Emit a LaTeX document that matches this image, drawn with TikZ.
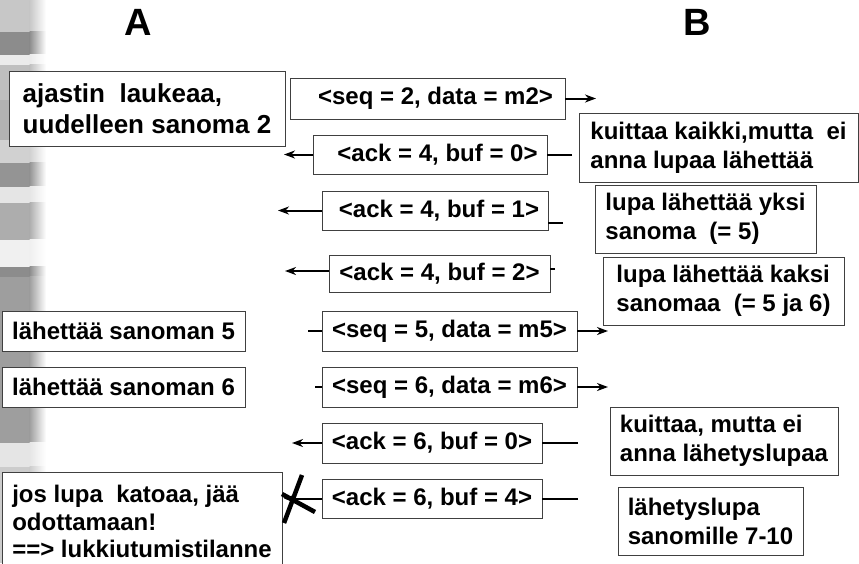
\documentclass[tikz,border=0pt]{standalone}
\usepackage{fontspec}
\setmainfont{Liberation Sans}
\usetikzlibrary{arrows.meta}
\begin{document}
\begin{tikzpicture}[x=1pt,y=-1pt,
  box/.style={draw=black!75, line width=0.9pt, fill=white, inner sep=0pt, align=left,
              font=\bfseries\fontsize{24}{29}\selectfont},
  arr/.style={line width=2pt, -{Stealth[length=11pt,width=8pt,inset=3.5pt]}},
  stub/.style={line width=2pt},
  cross/.style={line width=4.5pt},
  hdr/.style={font=\bfseries\fontsize{38}{40}\selectfont, inner sep=0pt}]

\clip (0,0) rectangle (859,563);
\fill[white] (0,0) rectangle (859,563);

% left decorative band
\foreach \a/\b/\c in {0/32/22, 32/55/45, 55/65/8, 65/100/25, 100/140/30, 140/163/18,
                      163/187/42, 187/203/10, 203/240/32, 240/267/6, 267/277/45,
                      277/443/38, 443/467/10, 467/563/20}{
  \fill[black!\c] (0,\a-0.3) rectangle (30,\b+0.3);
  \shade[left color=black!\c, right color=white] (29.5,\a-0.3) rectangle (46,\b+0.3);
}

% headers
\node[hdr] (A) at (138,22) {A};
\node[hdr] (B) at (697,22) {B};

% A side notes
\node[box, minimum width=276pt, minimum height=75pt,
      font=\bfseries\fontsize{26}{31}\selectfont] (n1) at (147,108.5)
      {ajastin\ \ laukeaa,\\uudelleen sanoma 2};
\node[box, minimum width=243pt, minimum height=40pt] (n5) at (123.5,331) {lähettää sanoman 5};
\node[box, minimum width=243pt, minimum height=40pt] (n6) at (123.5,387) {lähettää sanoman 6};
\node[box, minimum width=280pt, inner ysep=13pt, anchor=north,
      font=\bfseries\fontsize{24}{27.5}\selectfont] (n11) at (142,472)
      {jos lupa\ \ katoaa, jää\\odottamaan!\\==> lukkiutumistilanne};

% messages
\node[box, minimum width=275pt, minimum height=41pt] (m2) at (427.5,98.5) {\hspace*{16pt}<seq = 2, data = m2>};
\node[box, minimum width=234pt, minimum height=39pt] (a40) at (430,154.5) {\hspace*{15pt}<ack = 4, buf = 0>};
\node[box, minimum width=226pt, minimum height=39pt] (a41) at (435,210.5) {\hspace*{8pt}<ack = 4, buf = 1>};
\node[box, minimum width=221pt, minimum height=37pt] (a42) at (439.5,273.5) {<ack = 4, buf = 2>};
\node[box, minimum width=255pt, minimum height=40pt] (s5) at (449.5,331) {<seq = 5, data = m5>};
\node[box, minimum width=255pt, minimum height=40pt] (s6) at (449.5,387) {<seq = 6, data = m6>};
\node[box, minimum width=220pt, minimum height=40pt] (a60) at (432,443) {<ack = 6, buf = 0>};
\node[box, minimum width=220pt, minimum height=39pt] (a64) at (432,498.5) {<ack = 6, buf = 4>};

% B side notes
\node[box, minimum width=279pt, minimum height=69pt] (r6) at (718.5,147.5)
      {kuittaa kaikki,mutta\ \ ei\\anna lupaa lähettää};
\node[box, minimum width=221pt, minimum height=68pt] (r7) at (705.5,219)
      {lupa lähettää yksi\\sanoma\ \ (= 5)};
\node[box, minimum width=241pt, minimum height=68pt] (r8) at (723.5,291)
      {lupa lähettää kaksi\\sanomaa\ \ (= 5 ja 6)};
\node[box, minimum width=228pt, minimum height=68pt] (r12) at (724,441)
      {kuittaa, mutta ei\\anna lähetyslupaa};
\node[box, minimum width=185pt, minimum height=68pt] (r13) at (710.5,521)
      {lähetyslupa\\sanomille 7-10};

% connector ends
\coordinate (m2R) at (596,98.5);
\coordinate (a40L) at (284,154.5);
\coordinate (a40R) at (572,154.5);
\coordinate (a41L) at (278,210.5);
\coordinate (a41R) at (563,223);
\coordinate (a42L) at (285,271);
\coordinate (a42R) at (555,269);
\coordinate (s5L) at (308,331);
\coordinate (s5R) at (608,331);
\coordinate (s6L) at (315,387);
\coordinate (s6R) at (608,387);
\coordinate (a60L) at (292,443);
\coordinate (a60R) at (578,443);
\coordinate (a64L) at (284,498.5);
\coordinate (a64R) at (578,498.5);

\draw[arr] (m2.east) -- (m2R);
\draw[arr] (a40.west) -- (a40L);
\draw[stub] (a40R) -- (a40.east);
\draw[arr] (a41.west) -- (a41L);
\draw[stub] (a41R) -- (a41.east |- a41R);
\draw[arr] (a42.west |- a42L) -- (a42L);
\draw[stub] (a42R) -- (a42.east |- a42R);
\draw[stub] (s5L) -- (s5.west);
\draw[arr] (s5.east) -- (s5R);
\draw[stub] (s6L) -- (s6.west);
\draw[arr] (s6.east) -- (s6R);
\draw[arr] (a60.west) -- (a60L);
\draw[stub] (a60R) -- (a60.east);
\draw[arr] (a64.west) -- (a64L);
\draw[stub] (a64R) -- (a64.east);

% lost message cross
\coordinate (x1a) at (284,523);
\coordinate (x1b) at (302,475);
\coordinate (x2a) at (282,494);
\coordinate (x2b) at (315,512);
\draw[cross] (x1a) -- (x1b);
\draw[cross] (x2a) -- (x2b);
\end{tikzpicture}
\end{document}
